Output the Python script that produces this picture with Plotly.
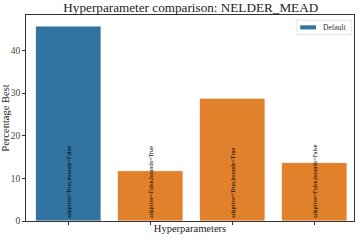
import plotly.graph_objects as go

categories = ["adaptive=True,bounds=False", "adaptive=False,bounds=True",
              "adaptive=True,bounds=True", "adaptive=False,bounds=False"]
values = [45.7, 11.8, 28.8, 13.7]
default_flags = [True, False, False, False]
legend_label = "Default"

BLUE = "#3274a1"
ORANGE = "#e1812c"
FONT = "Liberation Serif"

fig = go.Figure()
d_x = [c for c, f in zip(categories, default_flags) if f]
d_y = [v for v, f in zip(values, default_flags) if f]
o_x = [c for c, f in zip(categories, default_flags) if not f]
o_y = [v for v, f in zip(values, default_flags) if not f]

common = dict(textposition="inside", insidetextanchor="start", textangle=-90,
              textfont=dict(family=FONT, size=6.2, color="black"),
              marker_line=dict(color="white", width=0.8), width=0.8, showlegend=False)
fig.add_trace(go.Bar(x=d_x, y=d_y, text=d_x, name=legend_label, marker_color=BLUE, **common))
fig.add_trace(go.Bar(x=o_x, y=o_y, text=o_x, name="Other", marker_color=ORANGE, **common))

# legend drawn as box + patch + label (paper coords)
fig.add_shape(type="rect", xref="paper", yref="paper", x0=0.824, x1=0.993, y0=0.905, y1=0.975,
              line=dict(color="#dddddd", width=0.8), fillcolor="white", layer="above")
fig.add_shape(type="rect", xref="paper", yref="paper", x0=0.836, x1=0.884, y0=0.93, y1=0.95,
              line=dict(width=0), fillcolor=BLUE, layer="above")
fig.add_annotation(text=legend_label, xref="paper", yref="paper", x=0.9, y=0.94,
                   xanchor="left", yanchor="middle", showarrow=False,
                   font=dict(family=FONT, size=7.5, color="#333"))

fig.update_layout(
    width=360, height=240,
    margin=dict(l=26, r=6, t=15, b=19),
    paper_bgcolor="white", plot_bgcolor="white",
    barmode="overlay",
    font=dict(family=FONT, size=9, color="#333"),
    title=dict(text="Hyperparameter comparison: NELDER_MEAD", x=0.53, xanchor="center",
               y=0.99, yanchor="top", font=dict(family=FONT, size=13.2, color="#222")),
    showlegend=False,
    uniformtext=dict(minsize=5, mode="show"),
)
fig.update_xaxes(categoryorder="array", categoryarray=categories, automargin=False,
                 showticklabels=False, ticks="outside", ticklen=3, tickcolor="#333",
                 showline=True, linecolor="#333", linewidth=0.8, mirror=True,
                 range=[-0.515, 3.485], showgrid=False,
                 title=dict(text="Hyperparameters", font=dict(family=FONT, size=10.5, color="#222"), standoff=0))
fig.update_yaxes(range=[0, 48.3], tickvals=[0, 10, 20, 30, 40], ticks="outside", ticklen=3,
                 automargin=False,
                 tickcolor="#333", showline=True, linecolor="#333", linewidth=0.8, mirror=True,
                 showgrid=False, zeroline=False,
                 tickfont=dict(family=FONT, size=9.5, color="#444"),
                 title=dict(text="Percentage Best", font=dict(family=FONT, size=10.5, color="#222"), standoff=3))

fig.write_html("out.html", config={"displayModeBar": False},
               post_script="document.body.style.margin='0';document.body.style.overflow='hidden';")
